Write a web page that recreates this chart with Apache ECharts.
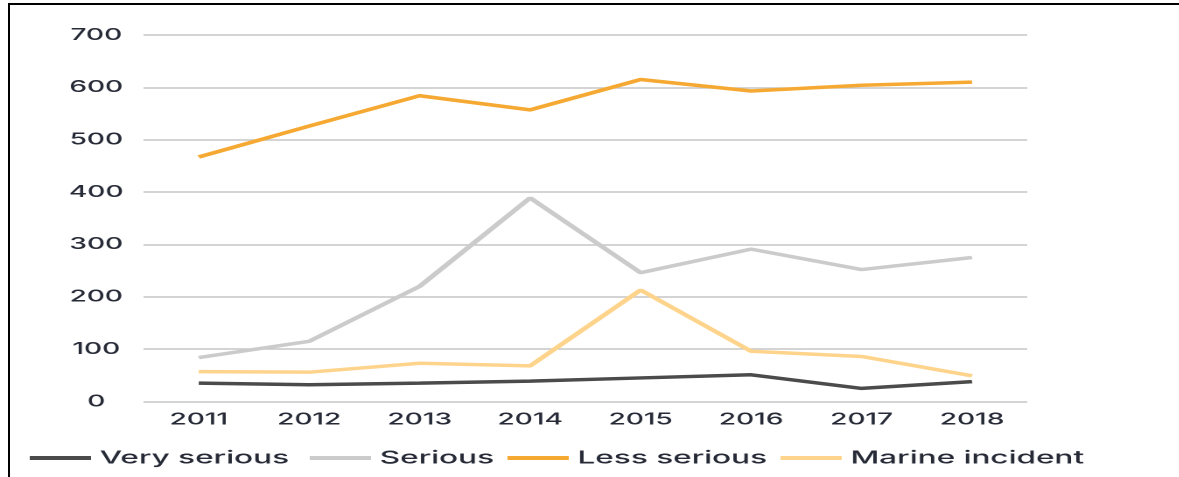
<html style="height: 100%">
<head>
<meta charset="utf-8">
<style>
	body { margin: 0; background: #fff; }
	#page { position: relative; width: 1179px; height: 477px; overflow: hidden; background: #fff; }
	#frameTop { position: absolute; left: 8px; top: 3px; width: 1171px; height: 1.5px; background: #000; }
	#frameLeft { position: absolute; left: 8px; top: 3px; width: 2px; height: 474px; background: #000; }
	/* the source picture is stretched sideways, so the chart is drawn narrow and widened */
	#container { position: absolute; left: 0; top: 0; width: 674px; height: 477px;
		transform: scaleX(1.75); transform-origin: 0 0; }
</style>
</head>
<body>
<div id="page">
	<div id="container"></div>
	<div id="frameTop"></div>
	<div id="frameLeft"></div>
</div>

<script src="https://cdn.jsdelivr.net/npm/echarts@6/dist/echarts.min.js"></script>
<script type="text/javascript">
	// 数据
	var years = ['2011', '2012', '2013', '2014', '2015', '2016', '2017', '2018'];
	var verySerious = [35, 32, 35, 39, 45, 51, 25, 38];
	var serious = [84, 115, 220, 389, 246, 291, 252, 275];
	var lessSerious = [467, 526, 584, 557, 615, 593, 604, 610];
	var marineIncident = [57, 56, 73, 68, 213, 96, 86, 49];
	var seriesNames = ['Very serious', 'Serious', 'Less serious', 'Marine incident'];
	var yTicks = ['0', '100', '200', '300', '400', '500', '600', '700'];

	var colors = ['#4b4b4b', '#cbcbcb', '#f6a932', '#fed48d'];
	var font = 'Inter, "Noto Sans", sans-serif';
	var textColor = '#262a36';

	var dom = document.getElementById('container');
	var myChart = echarts.init(dom, null, { renderer: 'canvas', devicePixelRatio: 2 });

	// 图例位置（画布坐标）
	var legendLeft = [12, 172, 285, 441];

	function buildLegend(i) {
		return {
			data: [seriesNames[i]],
			left: legendLeft[i],
			top: 444,
			icon: 'rect',
			itemWidth: 35,
			itemHeight: 4,
			selectedMode: false,
			textStyle: { fontFamily: font, fontSize: 18, fontWeight: 500, color: textColor }
		};
	}

	function buildSeries(i, data) {
		return {
			name: seriesNames[i],
			type: 'line',
			data: data,
			symbol: 'none',
			color: colors[i],
			lineStyle: { width: 3.5, color: colors[i] },
			itemStyle: { color: colors[i] }
		};
	}

	var option = {
		animation: false,
		legend: [buildLegend(0), buildLegend(1), buildLegend(2), buildLegend(3)],
		grid: { left: 82, top: 35, width: 505, height: 366.5, containLabel: false },
		xAxis: {
			type: 'category',
			data: years,
			boundaryGap: true,
			axisLine: { show: false },
			axisTick: { show: false },
			axisLabel: { margin: 10, fontFamily: font, fontSize: 16, fontWeight: 500, color: textColor }
		},
		yAxis: {
			type: 'value',
			min: 0,
			max: 700,
			interval: 100,
			axisLine: { show: false },
			axisTick: { show: false },
			splitLine: { lineStyle: { color: '#c6c6c6', width: 1.5 } },
			axisLabel: {
				margin: 27,
				align: 'center',
				fontFamily: font, fontSize: 16, fontWeight: 500, color: textColor,
				formatter: function (v) { return yTicks[v / 100]; }
			}
		},
		series: [
			buildSeries(0, verySerious),
			buildSeries(1, serious),
			buildSeries(2, lessSerious),
			buildSeries(3, marineIncident)
		]
	};

	myChart.setOption(option);
</script>
</body>
</html>
